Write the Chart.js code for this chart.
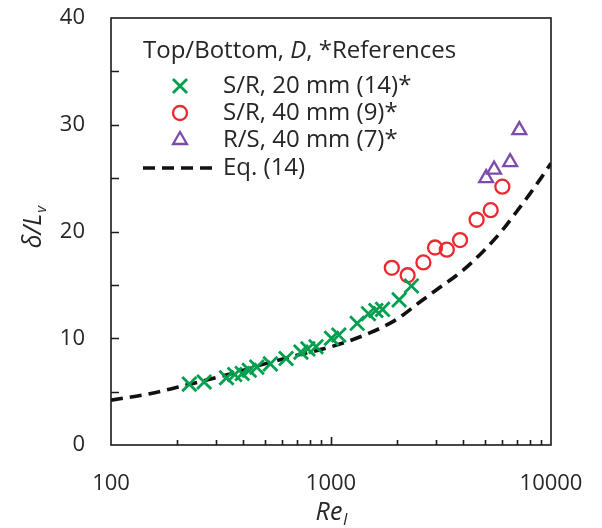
<!DOCTYPE html>
<html>
<head>
<meta charset="utf-8">
<script src="https://cdn.jsdelivr.net/npm/chart.js@4"></script>
<style>
  html, body { margin: 0; padding: 0; background: #fff; }
</style>
</head>
<body>
<canvas id="myChart" width="602" height="528"></canvas>
<script>
// S/R, 20 mm (14)*
const reSR20 = [227, 265, 335, 365, 395, 425, 460, 530, 625, 730, 785, 855, 1005, 1085, 1315, 1480, 1600, 1715, 2040, 2320];
const valSR20 = [5.7, 5.9, 6.3, 6.6, 6.7, 7.0, 7.3, 7.6, 8.1, 8.7, 9.0, 9.2, 10.0, 10.3, 11.4, 12.3, 12.6, 12.7, 13.6, 14.9];
// S/R, 40 mm (9)*
const reSR40 = [1890, 2230, 2630, 2970, 3360, 3860, 4590, 5320, 6010];
const valSR40 = [16.6, 15.9, 17.1, 18.5, 18.3, 19.2, 21.1, 22.0, 24.2];
// R/S, 40 mm (7)*
const reRS40 = [5070, 5510, 6520, 7180];
const valRS40 = [25.0, 25.8, 26.5, 29.5];
// Eq. (14)
const reEq = [100, 150, 200, 300, 400, 500, 700, 1000, 1500, 2000, 2500, 3000, 4000, 5000, 6000, 7000, 8000, 9000, 10000];
const valEq = [4.2, 4.8, 5.4, 6.3, 7.0, 7.6, 8.4, 9.2, 10.5, 11.8, 13.3, 14.5, 16.4, 18.3, 20.1, 21.9, 23.5, 25.0, 26.4];

const xLabels = [100, 1000, 10000];
const xMinor = [200, 300, 400, 500, 600, 700, 800, 900, 2000, 3000, 4000, 5000, 6000, 7000, 8000, 9000];
const yTickVals = [5, 10, 15, 20, 25, 30, 35];

const toPts = (xs, ys) => xs.map((v, i) => ({x: v, y: ys[i]}));

const green = '#00a04e';
const red = '#ec2830';
const purple = '#7d4ba8';
const FONT = '"Open Sans", "DejaVu Sans", sans-serif';
const textCol = '#262626';

const data = {
  datasets: [
    {
      label: 'S/R, 20 mm (14)*',
      data: toPts(reSR20, valSR20),
      pointStyle: 'crossRot',
      pointRadius: 10,
      borderColor: green,
      backgroundColor: green,
      pointBorderWidth: 2.8
    },
    {
      label: 'S/R, 40 mm (9)*',
      data: toPts(reSR40, valSR40),
      pointStyle: 'circle',
      pointRadius: 7,
      borderColor: red,
      backgroundColor: 'rgba(0,0,0,0)',
      pointBorderWidth: 2.3
    },
    {
      label: 'R/S, 40 mm (7)*',
      data: toPts(reRS40, valRS40),
      pointStyle: 'triangle',
      pointRadius: 8,
      borderColor: purple,
      backgroundColor: 'rgba(0,0,0,0)',
      pointBorderWidth: 2.3
    },
    {
      label: 'Eq. (14)',
      data: toPts(reEq, valEq),
      showLine: true,
      pointRadius: 0,
      borderColor: '#111',
      borderWidth: 3.6,
      borderDash: [12, 7],
      cubicInterpolationMode: 'monotone'
    }
  ]
};

const noPad = scale => {
  scale.paddingTop = 0; scale.paddingBottom = 0;
  scale.paddingLeft = 0; scale.paddingRight = 0;
};

// frame, inward ticks, axis titles and legend
const decorations = {
  id: 'decorations',
  afterDraw(chart) {
    const {ctx, chartArea: a, scales: {x, y}} = chart;
    ctx.save();
    ctx.strokeStyle = '#1a1a1a';
    ctx.lineWidth = 1.6;
    ctx.strokeRect(a.left, a.top, a.right - a.left, a.bottom - a.top);

    ctx.beginPath();
    yTickVals.forEach(v => {
      const py = Math.round(y.getPixelForValue(v)) + 0.5;
      ctx.moveTo(a.left, py); ctx.lineTo(a.left + 8, py);
    });
    xMinor.forEach(v => {
      const px = Math.round(x.getPixelForValue(v)) + 0.5;
      ctx.moveTo(px, a.bottom); ctx.lineTo(px, a.bottom - 5);
    });
    const p1k = Math.round(x.getPixelForValue(1000)) + 0.5;
    ctx.moveTo(p1k, a.bottom); ctx.lineTo(p1k, a.bottom - 8);
    ctx.stroke();

    // x title: Re_l
    ctx.fillStyle = textCol;
    ctx.textBaseline = 'alphabetic';
    const cx = (a.left + a.right) / 2;
    ctx.font = 'italic 25px ' + FONT;
    const wRe = ctx.measureText('Re').width;
    ctx.font = 'italic 16px ' + FONT;
    const wl = ctx.measureText('l').width;
    let sx = cx - (wRe + wl) / 2;
    ctx.font = 'italic 25px ' + FONT;
    ctx.textAlign = 'left';
    ctx.fillText('Re', sx, 520);
    ctx.font = 'italic 16px ' + FONT;
    ctx.fillText('l', sx + wRe + 1, 525);

    // y title: δ/L_v
    ctx.save();
    ctx.translate(41, (a.top + a.bottom) / 2 - 4);
    ctx.rotate(-Math.PI / 2);
    ctx.font = 'italic 25px ' + FONT;
    const wd = ctx.measureText('δ/L').width;
    ctx.font = 'italic 15px ' + FONT;
    const wv = ctx.measureText('v').width;
    const sy = -(wd + wv) / 2;
    ctx.font = 'italic 25px ' + FONT;
    ctx.fillText('δ/L', sy, 0);
    ctx.font = 'italic 15px ' + FONT;
    ctx.fillText('v', sy + wd + 1, 5);
    ctx.restore();

    // legend
    const lx = a.left + 32;
    const fs = 24;
    ctx.font = fs + 'px ' + FONT;
    ctx.textBaseline = 'middle';
    let tx = lx;
    ctx.fillText('Top/Bottom, ', tx, 51);
    tx += ctx.measureText('Top/Bottom, ').width;
    ctx.font = 'italic ' + fs + 'px ' + FONT;
    ctx.fillText('D', tx, 51);
    tx += ctx.measureText('D').width;
    ctx.font = fs + 'px ' + FONT;
    ctx.fillText(', *References', tx, 51);

    const rowsY = [86, 113, 140, 168];
    const markX = a.left + 69;
    const textX = a.left + 112;
    chart.data.datasets.forEach((ds, i) => {
      const ry = rowsY[i];
      if (ds.showLine) {
        ctx.save();
        ctx.strokeStyle = ds.borderColor;
        ctx.lineWidth = ds.borderWidth;
        ctx.setLineDash(ds.borderDash);
        ctx.beginPath();
        ctx.moveTo(lx, ry); ctx.lineTo(textX - 6, ry);
        ctx.stroke();
        ctx.restore();
      } else {
        ctx.save();
        ctx.strokeStyle = ds.borderColor;
        ctx.fillStyle = ds.backgroundColor;
        ctx.lineWidth = ds.pointBorderWidth;
        Chart.helpers.drawPoint(ctx, {
          pointStyle: ds.pointStyle,
          radius: ds.pointRadius,
          borderWidth: ds.pointBorderWidth,
          rotation: 0
        }, markX, ry);
        ctx.restore();
      }
      ctx.fillStyle = textCol;
      ctx.font = fs + 'px ' + FONT;
      ctx.fillText(ds.label, textX, ry);
    });
    ctx.restore();
  }
};

const config = {
  type: 'scatter',
  data,
  options: {
    responsive: false,
    animation: false,
    devicePixelRatio: 1,
    layout: { padding: { left: 0, right: 51, top: 18, bottom: 0 } },
    plugins: { legend: { display: false }, tooltip: { enabled: false } },
    scales: {
      x: {
        type: 'logarithmic',
        min: 100,
        max: 10000,
        grid: { display: false, drawTicks: false },
        border: { display: false },
        afterBuildTicks(scale) {
          scale.ticks = xLabels.map(v => ({value: v}));
        },
        afterFit(scale) { scale.height = 83; noPad(scale); },
        ticks: {
          color: textCol,
          font: { family: FONT, size: 22 },
          padding: 26,
          maxRotation: 0,
          callback: v => String(v)
        }
      },
      y: {
        min: 0,
        max: 40,
        grid: { display: false, drawTicks: false },
        border: { display: false },
        afterFit(scale) { scale.width = 111; noPad(scale); },
        ticks: {
          stepSize: 10,
          color: textCol,
          font: { family: FONT, size: 22 },
          padding: 26
        }
      }
    }
  },
  plugins: [decorations]
};

const myChart = new Chart(document.getElementById('myChart'), config);
</script>
</body>
</html>
